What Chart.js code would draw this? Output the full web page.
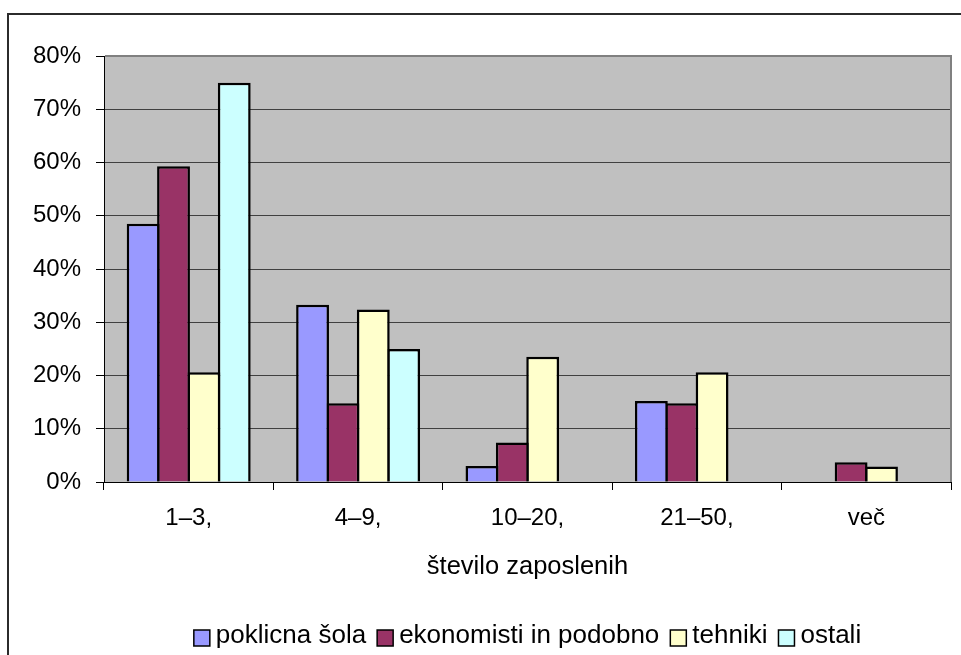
<!DOCTYPE html>
<html>
<head>
<meta charset="utf-8">
<script src="https://cdn.jsdelivr.net/npm/chart.js@4/dist/chart.umd.min.js"></script>
<style>
  html, body { margin: 0; padding: 0; background: #ffffff; }
  #wrap { width: 961px; height: 655px; }
</style>
</head>
<body>
<div id="wrap"><canvas id="c" width="961" height="655"></canvas></div>
<script>
// Share of employees by company size (number of employees), per education group
const categories = ['1–3,', '4–9,', '10–20,', '21–50,', 'več'];
const poklicnaSola = [48.5, 33.3, 3.0, 15.2, null];
const ekonomisti   = [59.3, 14.8, 7.4, 14.8, 3.7];
const tehniki      = [20.6, 32.4, 23.5, 20.6, 2.9];
const ostali       = [75.0, 25.0, null, null, null];
const seriesNames  = ['poklicna šola', 'ekonomisti in podobno', 'tehniki', 'ostali'];
const seriesColors = ['#9999FF', '#993366', '#FFFFCC', '#CCFFFF'];
const yMin = 0, yMax = 80, yStep = 10;
const axisTitle = 'število zaposlenih';

const FONT = '"Liberation Sans", Arial, sans-serif';

// Background, outer frame, plot border, axis title and legend
const decor = {
  id: 'decor',
  beforeDraw(chart) {
    const { ctx, chartArea: a } = chart;
    ctx.save();
    ctx.fillStyle = '#ffffff';
    ctx.fillRect(0, 0, chart.width, chart.height);
    ctx.fillStyle = '#C0C0C0';
    ctx.fillRect(a.left, a.top, a.right - a.left, a.bottom - a.top);
    ctx.strokeStyle = '#2b2b2b';
    ctx.lineWidth = 2;
    ctx.beginPath();
    ctx.moveTo(8, chart.height + 5);
    ctx.lineTo(8, 14);
    ctx.lineTo(chart.width + 5, 14);
    ctx.stroke();
    ctx.restore();
  },
  afterDraw(chart) {
    const { ctx, chartArea: a } = chart;
    ctx.save();
    // plot area edge, top and right
    ctx.strokeStyle = '#808080';
    ctx.lineWidth = 2;
    ctx.beginPath();
    ctx.moveTo(a.left + 1, a.top);
    ctx.lineTo(a.right, a.top);
    ctx.lineTo(a.right, a.bottom);
    ctx.stroke();

    const cx = (a.left + a.right) / 2;
    // axis title
    ctx.fillStyle = '#000';
    ctx.font = '25.5px ' + FONT;
    ctx.textAlign = 'center';
    ctx.textBaseline = 'alphabetic';
    ctx.fillText(axisTitle, cx, 574);

    // legend
    ctx.font = '26px ' + FONT;
    ctx.textAlign = 'left';
    const box = 16, boxGap = 6, itemGap = 11;
    const ds = chart.data.datasets;
    let total = 0;
    ds.forEach((d, i) => {
      total += box + boxGap + ctx.measureText(d.label).width;
      if (i < ds.length - 1) total += itemGap;
    });
    let x = cx - total / 2;
    ds.forEach(d => {
      ctx.fillStyle = d.backgroundColor;
      ctx.fillRect(x, 630, box, box);
      ctx.strokeStyle = '#000';
      ctx.lineWidth = 1.5;
      ctx.strokeRect(x, 630, box, box);
      x += box + boxGap;
      ctx.fillStyle = '#000';
      ctx.fillText(d.label, x, 643);
      x += ctx.measureText(d.label).width + itemGap;
    });
    ctx.restore();
  }
};

const series = [poklicnaSola, ekonomisti, tehniki, ostali];

new Chart(document.getElementById('c'), {
  type: 'bar',
  data: {
    labels: categories,
    datasets: series.map((values, i) => ({
      label: seriesNames[i],
      data: values,
      backgroundColor: seriesColors[i],
      borderColor: '#000000',
      borderWidth: 2.5,
      borderSkipped: 'bottom',
      // neighbouring bars overlap by one border width so they share an edge
      categoryPercentage: 0.717,
      barPercentage: 1.082
    }))
  },
  options: {
    responsive: false,
    animation: false,
    devicePixelRatio: 1,
    layout: { padding: { left: 0, top: 56, right: 10, bottom: 0 } },
    plugins: {
      legend: { display: false },
      tooltip: { enabled: false },
      title: { display: false }
    },
    scales: {
      x: {
        afterFit: s => { s.height = 173; },
        grid: {
          offset: true,
          drawOnChartArea: false,
          drawTicks: true,
          tickLength: 8,
          tickColor: '#000',
          lineWidth: 1
        },
        border: { display: true, color: '#000', width: 1 },
        ticks: {
          color: '#000',
          padding: 14,
          maxRotation: 0,
          font: { family: FONT, size: 24 }
        }
      },
      y: {
        min: yMin,
        max: yMax,
        afterFit: s => { s.width = 104; },
        grid: {
          drawOnChartArea: true,
          drawTicks: true,
          tickLength: 8,
          color: '#404040',
          tickColor: '#000',
          lineWidth: 1
        },
        border: { display: true, color: '#000', width: 1 },
        ticks: {
          stepSize: yStep,
          color: '#000',
          padding: 15,
          font: { family: FONT, size: 24 },
          callback: v => v + '%'
        }
      }
    }
  },
  plugins: [decor]
});
</script>
</body>
</html>
